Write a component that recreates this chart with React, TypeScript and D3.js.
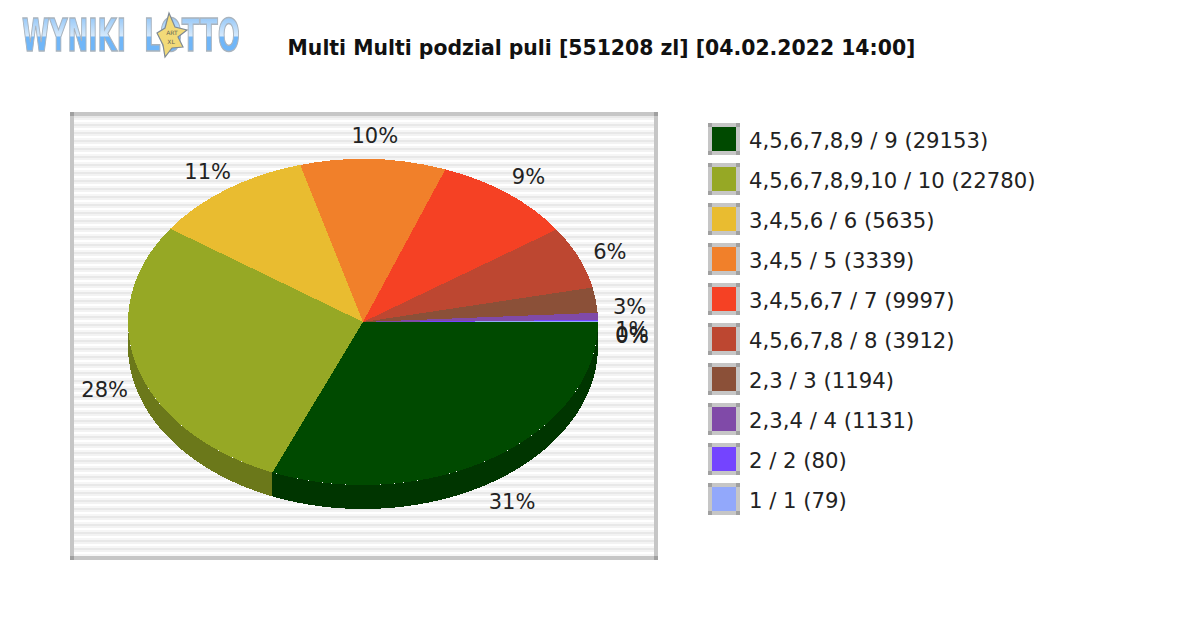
import React from "react";
import * as d3 from "d3";

const titleText = "Multi Multi podzial puli [551208 zl] [04.02.2022 14:00]";
const legendLabels = [
  "4,5,6,7,8,9 / 9 (29153)",
  "4,5,6,7,8,9,10 / 10 (22780)",
  "3,4,5,6 / 6 (5635)",
  "3,4,5 / 5 (3339)",
  "3,4,5,6,7 / 7 (9997)",
  "4,5,6,7,8 / 8 (3912)",
  "2,3 / 3 (1194)",
  "2,3,4 / 4 (1131)",
  "2 / 2 (80)",
  "1 / 1 (79)",
];
const shares = [31.3, 28.4, 11.0, 10.0, 9.7, 6.2, 2.5, 0.7, 0.1, 0.1];
const percentLabels = ["31%", "28%", "11%", "10%", "9%", "6%", "3%", "1%", "0%", "0%"];
const colors = ["#004a00", "#96a825", "#e9bc30", "#f1802a", "#f54124", "#bd4731", "#8b5038", "#804aa8", "#7444ff", "#92a8fb"];

const cx = 363, cy = 322, rx = 235, ry = 163, depth = 24;
const FONT = "'DejaVu Sans', sans-serif";

type Slice = d3.PieArcDatum<number>;
const pie = d3.pie<number>().sort(null).startAngle(Math.PI / 2).endAngle(Math.PI * 2.5);
const slices: Slice[] = pie(shares);
const arc = d3.arc<Slice>().innerRadius(0).outerRadius(rx);

// d3 angles run clockwise from 12 o'clock
const ptX = (a: number, r = rx) => cx + r * Math.sin(a);
const ptY = (a: number, r = ry) => cy - r * Math.cos(a);

const wall = d3.area<number>().x((a) => ptX(a)).y0((a) => ptY(a)).y1((a) => ptY(a) + depth);

function wallPath(s: Slice): string | null {
  const a0 = Math.max(s.startAngle, Math.PI / 2);
  const a1 = Math.min(s.endAngle, (Math.PI * 3) / 2);
  if (a1 <= a0) return null;
  const n = Math.max(2, Math.ceil((a1 - a0) * 60));
  const angles = d3.range(n + 1).map((i) => a0 + ((a1 - a0) * i) / n);
  return wall(angles);
}

function labelPos(s: Slice) {
  const a = (s.startAngle + s.endAngle) / 2;
  const sin = -Math.cos(a);
  const cos = Math.sin(a);
  const c = Math.abs(cos);
  const dy = sin > 0 ? 12 + 17 * sin : -1 + 5 * c * c + 11 * Math.pow(c, 64);
  return { x: cx + 269 * cos, y: cy + 185 * sin + dy };
}

const legendY = d3.scaleBand<number>().domain(d3.range(legendLabels.length)).range([119, 519]);

const starOutline = [
  [169, 13], [175, 27], [187, 30], [178, 37], [183, 47],
  [172, 48], [165, 57], [163, 45], [157, 33], [165, 28],
].map((p) => p.join(",")).join(" ");

export default function App() {
  return (
    <svg width={1200} height={630} viewBox="0 0 1200 630" style={{ position: "absolute", left: 0, top: 0, display: "block", background: "#fff" }}>
      <defs>
        <pattern id="stripes" x={0} y={116} width={8} height={8} patternUnits="userSpaceOnUse">
          <rect width={8} height={8} fill="#fff" />
          <rect y={0} width={8} height={2} fill="#e8e8e8" />
          <rect y={2} width={8} height={2} fill="#f3f3f3" />
          <rect y={6} width={8} height={2} fill="#f6f6f6" />
        </pattern>
        <linearGradient id="logoFill" x1="0" y1="19" x2="0" y2="52" gradientUnits="userSpaceOnUse">
          <stop offset="0" stopColor="#9ccbf8" />
          <stop offset="0.5" stopColor="#d4e8fb" />
          <stop offset="0.56" stopColor="#70b6f8" />
          <stop offset="1" stopColor="#70b6f8" />
        </linearGradient>
        <filter id="soft" x="-5%" y="-5%" width="110%" height="110%">
          <feGaussianBlur stdDeviation="0.7" />
        </filter>
      </defs>

      {/* logo */}
      <g filter="url(#soft)" fontFamily={FONT} fontWeight="bold" fontSize={44} fill="url(#logoFill)" stroke="#a9b3bd" strokeWidth={1.5}>
        <text x={22} y={51} textLength={104} lengthAdjust="spacingAndGlyphs">WYNIKI</text>
        <text x={144} y={51} textLength={96} lengthAdjust="spacingAndGlyphs">LOTTO</text>
        <polygon points={starOutline} fill="#f2da78" stroke="#7f8a94" strokeWidth={1.2} />
      </g>
      <g fontFamily={FONT} fontSize={6} fill="#665" textAnchor="middle">
        <text x={172} y={35}>ART</text>
        <text x={171} y={44}>XL</text>
      </g>

      <text x={601.5} y={55} textAnchor="middle" fontFamily={FONT} fontWeight="bold" fontSize={20.4} fill="#111">{titleText}</text>

      {/* plot frame */}
      <rect x={72} y={114} width={584} height={444} fill="url(#stripes)" stroke="#c6c6c6" strokeWidth={4} />
      {[[70, 112], [654, 112], [70, 556], [654, 556]].map(([x, y], i) => (
        <rect key={i} x={x} y={y} width={4} height={4} fill="#a0a0a0" />
      ))}

      {/* pie walls */}
      <g shapeRendering="crispEdges">
        {slices.map((s, i) => {
          const d = wallPath(s);
          if (!d) return null;
          return <path key={i} d={d} fill={d3.color(colors[i])!.darker(0.95).formatHex()} />;
        })}
      </g>

      {/* pie top */}
      <g transform={`translate(${cx},${cy}) scale(1,${ry / rx})`} shapeRendering="crispEdges">
        {slices.map((s, i) => (
          <path key={i} d={arc(s)!} fill={colors[i]} />
        ))}
      </g>

      {/* slice labels */}
      <g fontFamily={FONT} fontSize={21} fill="#222" textAnchor="middle" dominantBaseline="central">
        {slices.map((s, i) => {
          const p = labelPos(s);
          return <text key={i} x={p.x} y={p.y}>{percentLabels[i]}</text>;
        })}
      </g>

      {/* legend */}
      <g fontFamily={FONT} fontSize={21.2} fill="#222">
        {legendLabels.map((label, i) => {
          const y = legendY(i)! + 4;
          return (
            <g key={label}>
              <rect x={710} y={y + 2} width={28} height={28} fill={colors[i]} stroke="#c6c6c6" strokeWidth={4} />
              {[[708, y], [736, y], [708, y + 28], [736, y + 28]].map(([x0, y0], k) => (
                <rect key={k} x={x0} y={y0} width={4} height={4} fill="#a0a0a0" />
              ))}
              <text x={749} y={y + 17} dominantBaseline="central">{label}</text>
            </g>
          );
        })}
      </g>
    </svg>
  );
}
